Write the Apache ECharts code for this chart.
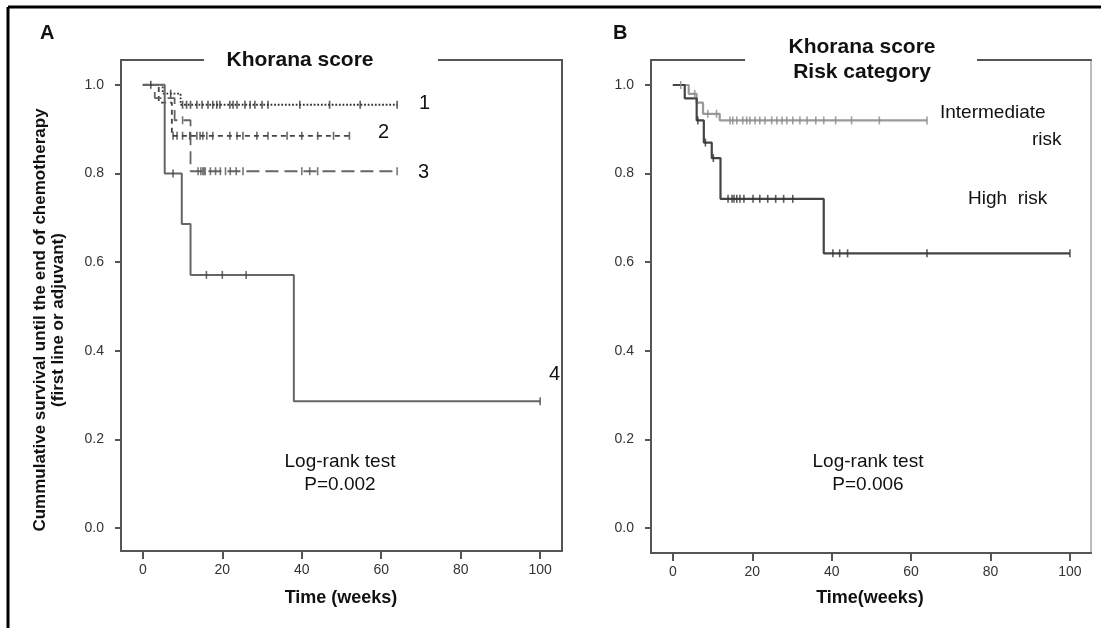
<!DOCTYPE html>
<html><head><meta charset="utf-8">
<script src="https://cdn.jsdelivr.net/npm/echarts@6/dist/echarts.min.js"></script>
<style>html,body{margin:0;padding:0;background:#fff}#c{width:1101px;height:628px}</style>
</head><body><div id="c"></div>
<script>
const xTicks = [0, 20, 40, 60, 80, 100];
const yTicks = [0, 0.2, 0.4, 0.6, 0.8, 1.0];

// Panel A: Khorana score 1..4 (step change times and survival after the step)
const a1Times = [0, 5, 9.5, 64];
const a1Surv = [1, 0.98, 0.955, 0.955];
const a1Censor = [2, 7, 10, 11, 12, 13.6, 14.9, 16.4, 17.6, 18.6, 19.4, 21.9, 22.7, 23.7, 25.7, 27, 28.2, 30, 31.5, 39.5, 47, 54.7, 64];
const a2Times = [0, 4, 7.3, 52];
const a2Surv = [1, 0.96, 0.885, 0.885];
const a2Censor = [7.6, 8.6, 10, 11.8, 13.6, 14.4, 15.1, 16.1, 17.6, 21.9, 23.7, 25.2, 28.7, 31.5, 36.3, 40, 44, 48, 52];
const a3Times = [0, 3, 8, 12, 64];
const a3Surv = [1, 0.97, 0.92, 0.805, 0.805];
const a3Censor = [10, 13.9, 14.6, 15.1, 15.4, 15.7, 17, 18.3, 19.5, 20.8, 22, 23.5, 25.2, 40, 42, 44, 64];
const a4Times = [0, 5.5, 9.8, 12, 38, 100];
const a4Surv = [1, 0.8, 0.686, 0.571, 0.286, 0.286];
const a4Censor = [7.6, 16, 20, 26, 100];

// Panel B: risk category
const bIntTimes = [0, 4, 6, 7.6, 11.8, 64];
const bIntSurv = [1, 0.98, 0.96, 0.935, 0.92, 0.92];
const bIntCensor = [2, 5.5, 8.8, 11, 14.4, 15.1, 16.1, 17.6, 18.6, 19.4, 20.7, 21.9, 23.2, 24.9, 26.2, 27.5, 28.7, 30.2, 32, 33.8, 36, 38, 41, 45, 52, 64];
const bHighTimes = [0, 3, 6, 7.8, 9.8, 12, 38, 100];
const bHighSurv = [1, 0.97, 0.92, 0.87, 0.835, 0.743, 0.62, 0.62];
const bHighCensor = [6.3, 8.2, 10.2, 13.9, 14.9, 15.4, 16.1, 16.9, 17.9, 20.2, 21.9, 23.9, 25.9, 27.9, 30.2, 40.3, 42, 44, 64, 100];

const FONT = 'Liberation Sans, Arial, sans-serif';

function pts(times, surv) { return times.map((t, i) => [t, surv[i]]); }
function survAt(times, surv, t) {
  let s = surv[0];
  for (let i = 0; i < times.length; i++) { if (times[i] <= t) s = surv[i]; }
  return s;
}
function censorPts(times, surv, c) { return c.map(t => [t, survAt(times, surv, t)]); }

function stepSeries(xi, yi, times, surv, color, type, width) {
  return { type: 'line', xAxisIndex: xi, yAxisIndex: yi, step: 'end', data: pts(times, surv),
    showSymbol: false, symbol: 'none', silent: true, z: 3,
    lineStyle: { color: color, width: width || 1.8, type: type || 'solid' } };
}
function censorSeries(xi, yi, times, surv, c, color) {
  return { type: 'scatter', xAxisIndex: xi, yAxisIndex: yi, data: censorPts(times, surv, c),
    symbol: 'rect', symbolSize: [1.6, 8], silent: true, z: 4,
    itemStyle: { color: color } };
}

const axisColor = '#555';
function xAx(gi, min, max) {
  return { type: 'value', gridIndex: gi, min: min, max: max, position: 'bottom',
    axisLine: { show: true, onZero: false, lineStyle: { color: axisColor, width: 2 } },
    axisTick: { show: true, customValues: xTicks, length: 8, lineStyle: { color: axisColor, width: 2 } },
    axisLabel: { customValues: xTicks, margin: 12, color: '#333', fontSize: 14, fontFamily: FONT },
    splitLine: { show: false } };
}
function xTop(gi, min, max) {
  return { type: 'value', gridIndex: gi, min: min, max: max, position: 'top',
    axisLine: { show: true, onZero: false, lineStyle: { color: axisColor, width: 2 } },
    axisTick: { show: false }, axisLabel: { show: false }, splitLine: { show: false } };
}
function yAx(gi, min, max) {
  return { type: 'value', gridIndex: gi, min: min, max: max, position: 'left',
    axisLine: { show: true, onZero: false, lineStyle: { color: axisColor, width: 2 } },
    axisTick: { show: true, customValues: yTicks, length: 6, lineStyle: { color: axisColor, width: 2 } },
    axisLabel: { customValues: yTicks, margin: 17, color: '#333', fontSize: 14, fontFamily: FONT,
      formatter: v => v.toFixed(1) },
    splitLine: { show: false } };
}
function yRight(gi, min, max, col) {
  return { type: 'value', gridIndex: gi, min: min, max: max, position: 'right',
    axisLine: { show: true, onZero: false, lineStyle: { color: col, width: 2 } },
    axisTick: { show: false }, axisLabel: { show: false }, splitLine: { show: false } };
}

function txt(x, y, text, opts) {
  return Object.assign({ type: 'text', x: x, y: y, z: 100,
    style: Object.assign({ text: text, fill: '#111', font: '17px ' + FONT, align: 'left', verticalAlign: 'middle' }, opts || {}) });
}

const chart = echarts.init(document.getElementById('c'), null, { renderer: 'canvas' });
chart.setOption({
  backgroundColor: '#fff',
  animation: false,
  grid: [
    { left: 121, top: 60, width: 441, height: 491 },
    { left: 651, top: 60, width: 440, height: 493 }
  ],
  xAxis: [xAx(0, -5.5, 105.5), xAx(1, -5.5, 105.3), xTop(0, -5.5, 105.5), xTop(1, -5.5, 105.3)],
  yAxis: [yAx(0, -0.052, 1.056), yRight(0, -0.052, 1.056, axisColor), yAx(1, -0.0564, 1.0564), yRight(1, -0.0564, 1.0564, '#bbb')],
  series: [
    stepSeries(0, 0, a1Times, a1Surv, '#333', 'dotted', 1.8),
    censorSeries(0, 0, a1Times, a1Surv, a1Censor, '#333'),
    stepSeries(0, 0, a2Times, a2Surv, '#444', [5, 4], 1.8),
    censorSeries(0, 0, a2Times, a2Surv, a2Censor, '#444'),
    stepSeries(0, 0, a3Times, a3Surv, '#666', [13, 6], 1.8),
    censorSeries(0, 0, a3Times, a3Surv, a3Censor, '#555'),
    stepSeries(0, 0, a4Times, a4Surv, '#666', 'solid', 2),
    censorSeries(0, 0, a4Times, a4Surv, a4Censor, '#444'),
    stepSeries(1, 2, bIntTimes, bIntSurv, '#9a9a9a', 'solid', 2.2),
    censorSeries(1, 2, bIntTimes, bIntSurv, bIntCensor, '#8a8a8a'),
    stepSeries(1, 2, bHighTimes, bHighSurv, '#444', 'solid', 2.2),
    censorSeries(1, 2, bHighTimes, bHighSurv, bHighCensor, '#333')
  ],
  graphic: [
    // outer frame
    { type: 'line', z: 100, shape: { x1: 8, y1: 7, x2: 1101, y2: 7 }, style: { stroke: '#000', lineWidth: 3 } },
    { type: 'line', z: 100, shape: { x1: 8, y1: 7, x2: 8, y2: 628 }, style: { stroke: '#000', lineWidth: 3 } },
    // gaps in the top box line behind the titles
    { type: 'rect', z: 90, shape: { x: 204, y: 52, width: 234, height: 16 }, style: { fill: '#fff' } },
    { type: 'rect', z: 90, shape: { x: 745, y: 52, width: 232, height: 16 }, style: { fill: '#fff' } },
    txt(40, 33, 'A', { font: 'bold 20px ' + FONT }),
    txt(613, 33, 'B', { font: 'bold 20px ' + FONT }),
    txt(300, 60, 'Khorana score', { font: 'bold 21px ' + FONT, align: 'center' }),
    txt(862, 47, 'Khorana score', { font: 'bold 21px ' + FONT, align: 'center' }),
    txt(862, 72, 'Risk category', { font: 'bold 21px ' + FONT, align: 'center' }),
    { type: 'text', x: 49, y: 320, rotation: Math.PI / 2, z: 100,
      style: { text: 'Cummulative survival until the end of chemotherapy\n(first line or adjuvant)', fill: '#111',
        font: 'bold 17px ' + FONT, align: 'center', verticalAlign: 'middle', lineHeight: 18 } },
    txt(341, 598, 'Time (weeks)', { font: 'bold 18px ' + FONT, align: 'center' }),
    txt(870, 598, 'Time(weeks)', { font: 'bold 18px ' + FONT, align: 'center' }),
    txt(419, 103, '1', { font: '20px ' + FONT }),
    txt(378, 132, '2', { font: '20px ' + FONT }),
    txt(418, 172, '3', { font: '20px ' + FONT }),
    txt(549, 374, '4', { font: '20px ' + FONT }),
    txt(340, 462, 'Log-rank test', { font: '19px ' + FONT, align: 'center' }),
    txt(340, 485, 'P=0.002', { font: '19px ' + FONT, align: 'center' }),
    txt(868, 462, 'Log-rank test', { font: '19px ' + FONT, align: 'center' }),
    txt(868, 485, 'P=0.006', { font: '19px ' + FONT, align: 'center' }),
    txt(940, 113, 'Intermediate', { font: '19px ' + FONT }),
    txt(1032, 140, 'risk', { font: '19px ' + FONT }),
    txt(968, 199, 'High  risk', { font: '19px ' + FONT })
  ]
});
</script></body></html>
